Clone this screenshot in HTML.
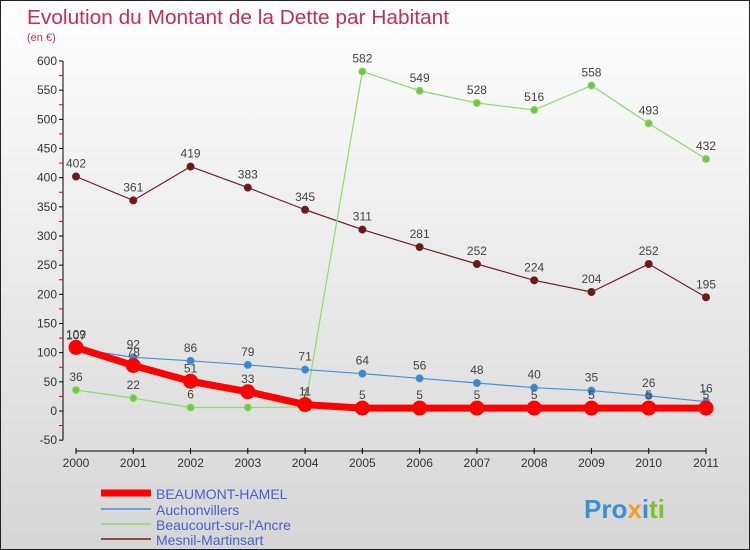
<!DOCTYPE html>
<html><head><meta charset="utf-8"><style>
body{margin:0}
#c{position:relative;width:748px;height:548px;border:1px solid #222;background:linear-gradient(#fefefe,#d6d6d6);font-family:"Liberation Sans",sans-serif;overflow:hidden}
</style></head><body>
<div id="c">
<svg id="s" width="748" height="548" style="position:absolute;left:0;top:0">
<text x="26" y="23" font-size="20" fill="#c0305a" textLength="422" lengthAdjust="spacingAndGlyphs">Evolution du Montant de la Dette par Habitant</text>
<text x="26" y="40" font-size="11" fill="#c0305a">(en €)</text>
<g id="axes"></g><g id="series"></g>
<g font-size="14" fill="#4a5fd0">
<line x1="100" y1="492" x2="150" y2="492" stroke="#f00" stroke-width="7"/>
<text x="155" y="498">BEAUMONT-HAMEL</text>
<line x1="100" y1="508" x2="150" y2="508" stroke="#4a90d0" stroke-width="1.5"/>
<text x="155" y="514">Auchonvillers</text>
<line x1="100" y1="523" x2="150" y2="523" stroke="#90d870" stroke-width="1.5"/>
<text x="155" y="529">Beaucourt-sur-l'Ancre</text>
<line x1="100" y1="538" x2="150" y2="538" stroke="#702020" stroke-width="1.5"/>
<text x="155" y="544">Mesnil-Martinsart</text>
</g>
<text x="583" y="517" font-size="26" font-weight="bold"><tspan fill="#3a8fd8">Pro</tspan><tspan fill="#f0a020">x</tspan><tspan fill="#3a8fd8">i</tspan><tspan fill="#80c030">ti</tspan></text>
</svg>
</div>
<script>
const years=[2000,2001,2002,2003,2004,2005,2006,2007,2008,2009,2010,2011];
const yTicks=[-50,0,50,100,150,200,250,300,350,400,450,500,550,600];
const beaumont=[109,78,51,33,11,5,5,5,5,5,5,5];
const auchonvillers=[107,92,86,79,71,64,56,48,40,35,26,16];
const beaucourt=[36,22,6,6,7,582,549,528,516,558,493,432];
const mesnil=[402,361,419,383,345,311,281,252,224,204,252,195];
const NS="http://www.w3.org/2000/svg";
function X(i){return 75+i*(630/11);}
function Y(v){return 410-v*(350/600);}
function mk(t,a,p){const e=document.createElementNS(NS,t);for(const k in a)e.setAttribute(k,a[k]);p.appendChild(e);return e;}
const ax=document.getElementById('axes');
let yl=mk('line',{x1:62,y1:Y(600),x2:62,y2:Y(-50),stroke:'#000'},ax);


yTicks.forEach(v=>{
  mk('line',{x1:58,y1:Y(v),x2:62,y2:Y(v),stroke:'#000'},ax);
  mk('line',{x1:58,y1:Y(v+25),x2:62,y2:Y(v+25),stroke:'#e00'},ax).style.display=v<600?'':'none';
  const t=mk('text',{x:56,y:Y(v)+4,'text-anchor':'end','font-size':12,fill:'#333'},ax);t.textContent=v;
  
  
});
let xl=mk('line',{x1:75,y1:450,x2:705,y2:450,stroke:'#000'},ax);


years.forEach((y,i)=>{
  mk('line',{x1:X(i),y1:447,x2:X(i),y2:453,stroke:'#000'},ax);
  const t=mk('text',{x:X(i),y:466,'text-anchor':'middle','font-size':12,fill:'#333'},ax);t.textContent=y;
  
  
});
const sg=document.getElementById('series');
function draw(d,col,w,r,fill,name){
  const g=mk('g',{},sg);
  
  
  const p=mk('polyline',{points:d.map((v,i)=>X(i)+','+Y(v)).join(' '),fill:'none',stroke:col,'stroke-width':w,'stroke-linejoin':'round'},g);
  
  
  d.forEach((v,i)=>{
    const c=mk('circle',{cx:X(i),cy:Y(v),r:r,fill:fill,stroke:col,'stroke-width':1},g);
    
    
    const t=mk('text',{x:X(i),y:Y(v)-9,'text-anchor':'middle','font-size':12,fill:'#444'},g);t.textContent=v;
    
    
  });
}
draw(mesnil,'#702020',1.2,3.5,'#6a1a1a','mesnil');
draw(beaucourt,'#90d870',1.2,3.5,'#70c840','beaucourt');
draw(auchonvillers,'#4a90d0',1.2,3.5,'#3a88d0','auchonvillers');
draw(beaumont,'#f00',7,7,'#f00','beaumont');
</script>
</body></html>
